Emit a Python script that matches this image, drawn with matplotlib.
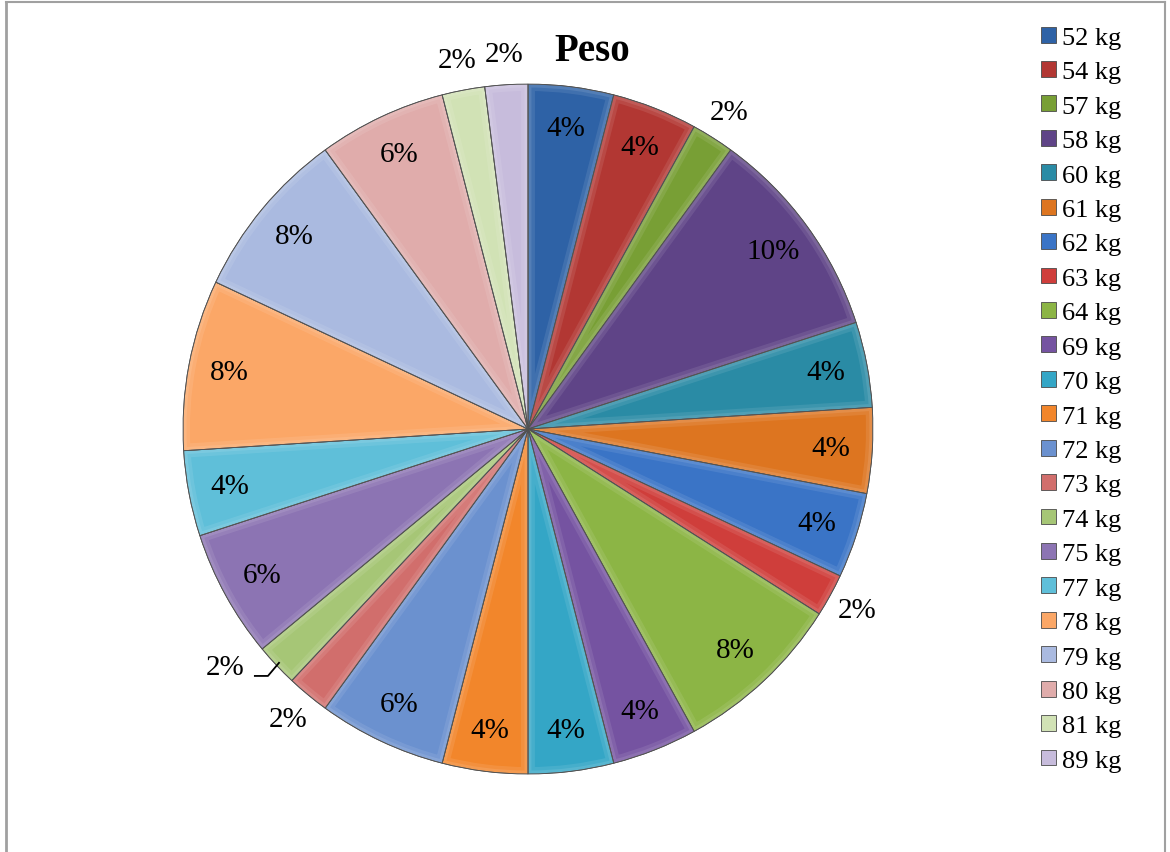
import matplotlib.pyplot as plt
import matplotlib.colors as mcolors
from matplotlib.patches import Wedge
import numpy as np

plt.rcParams['font.family'] = ['Liberation Serif', 'DejaVu Serif']

# Body weight distribution (number of people per weight)
pesos = ["52 kg", "54 kg", "57 kg", "58 kg", "60 kg", "61 kg", "62 kg", "63 kg",
         "64 kg", "69 kg", "70 kg", "71 kg", "72 kg", "73 kg", "74 kg", "75 kg",
         "77 kg", "78 kg", "79 kg", "80 kg", "81 kg", "89 kg"]
cuenta = [2, 2, 1, 5, 2, 2, 2, 1, 4, 2, 2, 2, 3, 1, 1, 3, 2, 4, 4, 3, 1, 1]

colores = ["#2e62a6", "#b23733", "#789f35", "#5f4487", "#2a8ba5", "#dd7520",
           "#3a74c6", "#cf3e3b", "#8cb545", "#7553a1", "#34a6c6", "#f2862b",
           "#6b91cf", "#d16e6c", "#a6c676", "#8c74b3", "#5fbfd9", "#fba767",
           "#aabae0", "#e0acab", "#d1e2b5", "#c7bcdc"]


def aclarar(c, f):
    r = mcolors.to_rgb(c)
    return tuple(min(1, v + (1 - v) * f) for v in r)


fig = plt.figure(figsize=(11.7, 8.53), dpi=100)
ax = fig.add_axes([0.1564, 0.0914, 0.5897, 0.8089])

wedges, _ = ax.pie(cuenta, colors=colores, startangle=90, counterclock=False,
                   radius=1.0, wedgeprops=dict(edgecolor="#4a4a4a", linewidth=0.6))

# bevel: soft lighter rim inside each slice (outline clipped to the slice)
for w, c in zip(wedges, colores):
    for lw, a in [(10, 0.18), (5, 0.22)]:
        rim = Wedge((0, 0), 1.0, w.theta1, w.theta2, facecolor="none",
                    edgecolor=aclarar(c, 0.5), linewidth=lw, alpha=a)
        ax.add_patch(rim)
        rim.set_clip_path(w)
    edge = Wedge((0, 0), 1.0, w.theta1, w.theta2, facecolor="none",
                 edgecolor="#505050", linewidth=0.6)
    ax.add_patch(edge)

ax.set_xlim(-1, 1)
ax.set_ylim(-1, 1)
ax.set_aspect("equal")
ax.axis("off")

total = sum(cuenta)
for i, (w, n) in enumerate(zip(wedges, cuenta)):
    ang = np.deg2rad((w.theta1 + w.theta2) / 2)
    pct = round(100 * n / total)
    dist = 1.09 if n == 1 else 0.88
    x, y = dist * np.cos(ang), dist * np.sin(ang)
    if pesos[i] == "74 kg":
        # label pulled out to the left with a leader line
        ex, ey = 0.99 * np.cos(ang), 0.99 * np.sin(ang)
        x, y = ex - 0.157, ey - 0.012
        ax.plot([x + 0.087, x + 0.125, ex], [y - 0.026, y - 0.026, ey],
                color="black", linewidth=1.3, clip_on=False)
    ax.text(x, y, f"{pct}%", ha="center", va="center", fontsize=21, clip_on=False)

fig.text(0.506, 0.94, "Peso", ha="center", va="center", fontsize=28,
         fontweight="bold")

fig.legend(wedges, pesos, loc="upper left", bbox_to_anchor=(0.881, 0.98),
           frameon=False, fontsize=19, handlelength=0.55, handleheight=0.55,
           handletextpad=0.25, labelspacing=0.46, borderaxespad=0)

# chart area border
fig.add_artist(plt.Line2D([0.0055, 0.0055], [0, 0.996], color="#a0a0a0",
                          linewidth=2, transform=fig.transFigure))
fig.add_artist(plt.Line2D([0.0055, 0.996], [0.996, 0.996], color="#a0a0a0",
                          linewidth=1.5, transform=fig.transFigure))
fig.add_artist(plt.Line2D([0.996, 0.996], [0, 0.996], color="#a0a0a0",
                          linewidth=1.5, transform=fig.transFigure))

fig.savefig("out.png", dpi=100)
